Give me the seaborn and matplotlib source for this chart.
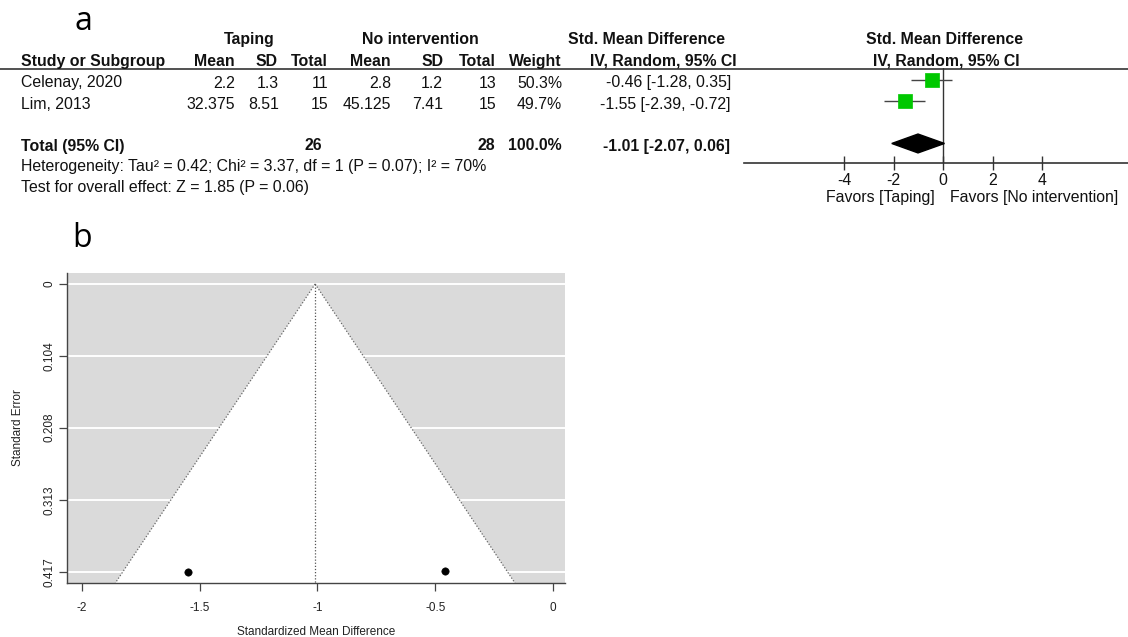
import numpy as np
import pandas as pd
import matplotlib
matplotlib.use("Agg")
import matplotlib.pyplot as plt
import seaborn as sns

# ---- meta-analysis data ----
studies = ["Celenay, 2020", "Lim, 2013"]
tap_mean = [2.2, 32.375]
tap_sd = [1.3, 8.51]
tap_n = [11, 15]
ctl_mean = [2.8, 45.125]
ctl_sd = [1.2, 7.41]
ctl_n = [13, 15]
weight = [50.3, 49.7]
smd = [-0.46, -1.55]
ci_lo = [-1.28, -2.39]
ci_hi = [0.35, -0.72]
smd_se = [0.415, 0.417]

pooled = -1.01
pooled_lo = -2.07
pooled_hi = 0.06
tap_total = 26
ctl_total = 28

heterogeneity = "Heterogeneity: Tau\u00b2 = 0.42; Chi\u00b2 = 3.37, df = 1 (P = 0.07); I\u00b2 = 70%"
overall = "Test for overall effect: Z = 1.85 (P = 0.06)"

forest_ticks = [-4, -2, 0, 2, 4]
funnel_xticks = [-2, -1.5, -1, -0.5, 0]
funnel_yticks = [0, 0.104, 0.208, 0.313, 0.417]

sns.set_theme(style="white")
plt.rcParams["font.family"] = ["Liberation Sans", "DejaVu Sans"]
plt.rcParams["axes.unicode_minus"] = False

W, H = 1128, 637
fig = plt.figure(figsize=(W / 100, H / 100), dpi=100)

def px_axes(left, top, right, bottom):
    return fig.add_axes([left / W, 1 - bottom / H, (right - left) / W, (bottom - top) / H])

# ---- overlay in pixel units for the table text ----
ov = fig.add_axes([0, 0, 1, 1])
ov.set_xlim(0, W)
ov.set_ylim(H, 0)
ov.axis("off")

TXT = "#111111"
FS = 11.4

def t(x, y, s, ha="right", bold=False, **kw):
    ov.text(x, y, s, ha=ha, va="baseline", fontsize=FS, color=TXT,
            fontweight="bold" if bold else "normal", **kw)

# panel letters
ov.text(74, 30, "a", fontsize=23, family=["Open Sans", "DejaVu Sans"], color="#000", va="baseline")
ov.text(72, 247, "b", fontsize=23, family=["Open Sans", "DejaVu Sans"], color="#000", va="baseline")

# header rows
y_h1, y_h2 = 44, 66
t(249, y_h1, "Taping", ha="center", bold=True)
t(420, y_h1, "No intervention", ha="center", bold=True)
t(647, y_h1, "Std. Mean Difference", ha="center", bold=True)
t(944, y_h1, "Std. Mean Difference", ha="center", bold=True)

col_x = [235, 278, 328, 391, 444, 496, 562, 737]
t(21, y_h2, "Study or Subgroup", ha="left", bold=True)
for x, s in zip(col_x, ["Mean", "SD", "Total", "Mean", "SD", "Total", "Weight",
                        "IV, Random, 95% CI"]):
    t(x, y_h2, s, bold=True)
t(946, y_h2, "IV, Random, 95% CI", ha="center", bold=True)

ov.plot([0, W], [68.5, 68.5], color="#333333", lw=1.2)

# study rows
row_base = [87.5, 109]
for i, name in enumerate(studies):
    y = row_base[i]
    t(21, y, name, ha="left")
    vals = [f"{tap_mean[i]:g}", f"{tap_sd[i]:g}", f"{tap_n[i]}",
            f"{ctl_mean[i]:g}", f"{ctl_sd[i]:g}", f"{ctl_n[i]}",
            f"{weight[i]:.1f}%",
            f"{smd[i]:.2f} [{ci_lo[i]:.2f}, {ci_hi[i]:.2f}]"]
    xs = [235, 279, 328, 391, 443, 496, 562, 731]
    for x, s in zip(xs, vals):
        t(x, y, s)

# total row
y_tot = 150.5
t(21, y_tot, "Total (95% CI)", ha="left", bold=True)
t(322, y_tot, f"{tap_total}", bold=True)
t(495, y_tot, f"{ctl_total}", bold=True)
t(562, y_tot, f"{sum(weight):.1f}%", bold=True)
t(730, y_tot, f"{pooled:.2f} [{pooled_lo:.2f}, {pooled_hi:.2f}]", bold=True)

t(21, 171.5, heterogeneity, ha="left")
t(21, 192, overall, ha="left")

t(935, 202, "Favors [Taping]", ha="right")
t(950, 202, "Favors [No intervention]", ha="left")

# ---- forest plot ----
fa = px_axes(744, 68, 1128, 163)
px_unit = 24.75
fa.set_xlim((744 - 943) / px_unit, (1128 - 943) / px_unit)
row_y = [0, 1]
tot_y = 3
fa.set_ylim(3.93, -0.595)
fa.set_facecolor("none")
for s in ["top", "right", "left"]:
    fa.spines[s].set_visible(False)
fa.spines["bottom"].set_color("#333333")
fa.spines["bottom"].set_linewidth(1.2)
fa.axvline(0, color="#333333", lw=1.0, zorder=1)

forest_df = pd.DataFrame({"smd": smd, "row": row_y, "weight": weight})
fa.hlines(row_y, ci_lo, ci_hi, color="#444444", lw=1.0, zorder=2)
sns.scatterplot(data=forest_df, x="smd", y="row", marker="s", s=105,
                color="#00c800", edgecolor="#00c800", linewidth=0.5,
                legend=False, ax=fa, zorder=3)
dh = 0.45
fa.fill([pooled_lo, pooled, pooled_hi, pooled],
        [tot_y, tot_y - dh, tot_y, tot_y + dh], color="black", zorder=3)
fa.set_xticks(forest_ticks)
fa.set_xticklabels([f"{v}" for v in forest_ticks])
fa.set_yticks([])
fa.tick_params(axis="x", direction="inout", length=10, width=1.0, color="#333333",
               labelsize=FS, labelcolor=TXT, pad=2, bottom=True)
fa.set_xlabel("")
fa.set_ylabel("")

# ---- funnel plot ----
ga = px_axes(67, 273, 565, 583)
ga.set_facecolor("#dadada")
ylo, yhi = -0.0159, 0.4329
ga.set_xlim(-2.0637, 0.051)
ga.set_ylim(yhi, ylo)
ga.set_yticks(funnel_yticks)
ga.set_yticklabels([f"{v:g}" for v in funnel_yticks])
ga.set_xticks(funnel_xticks)
ga.set_xticklabels([f"{v:g}" for v in funnel_xticks])
ga.set_axisbelow(True)
ga.grid(axis="y", color="white", lw=1.4)
ga.grid(axis="x", visible=False)

se_line = np.array([0, yhi])
left_edge = pooled - 1.96 * se_line
right_edge = pooled + 1.96 * se_line
ga.fill([left_edge[0], left_edge[1], right_edge[1]],
        [0, yhi, yhi], color="white", zorder=1, lw=0)
ga.plot(left_edge, se_line, ls=(0, (1, 1.5)), color="#666666", lw=0.9, zorder=2)
ga.plot(right_edge, se_line, ls=(0, (1, 1.5)), color="#666666", lw=0.9, zorder=2)
ga.plot([pooled, pooled], [0, yhi], ls=(0, (1, 1.5)), color="#555555", lw=0.9, zorder=2)

funnel_df = pd.DataFrame({"smd": smd, "se": smd_se})
sns.scatterplot(data=funnel_df, x="smd", y="se", color="black", s=28,
                edgecolor="black", legend=False, ax=ga, zorder=4)

for s in ["top", "right"]:
    ga.spines[s].set_visible(False)
for s in ["left", "bottom"]:
    ga.spines[s].set_color("#444444")
    ga.spines[s].set_linewidth(1.0)
ga.tick_params(axis="x", direction="out", length=6, width=0.9, color="#444444",
               labelsize=8.5, labelcolor="#222222", pad=8, bottom=True)
ga.tick_params(axis="y", direction="out", length=6, width=0.9, color="#444444",
               labelsize=8.5, labelcolor="#222222", pad=2, left=True, labelrotation=90)
for lab in ga.get_yticklabels():
    lab.set_va("center")
ga.set_xlabel("")
ga.set_ylabel("")

ov.text(18, 428, "Standard Error", rotation=90, ha="center", va="center",
        fontsize=8.5, color="#222222")
ov.text(316, 632, "Standardized Mean Difference", ha="center", va="center",
        fontsize=8.5, color="#222222")

fig.savefig("out.png", dpi=100)
